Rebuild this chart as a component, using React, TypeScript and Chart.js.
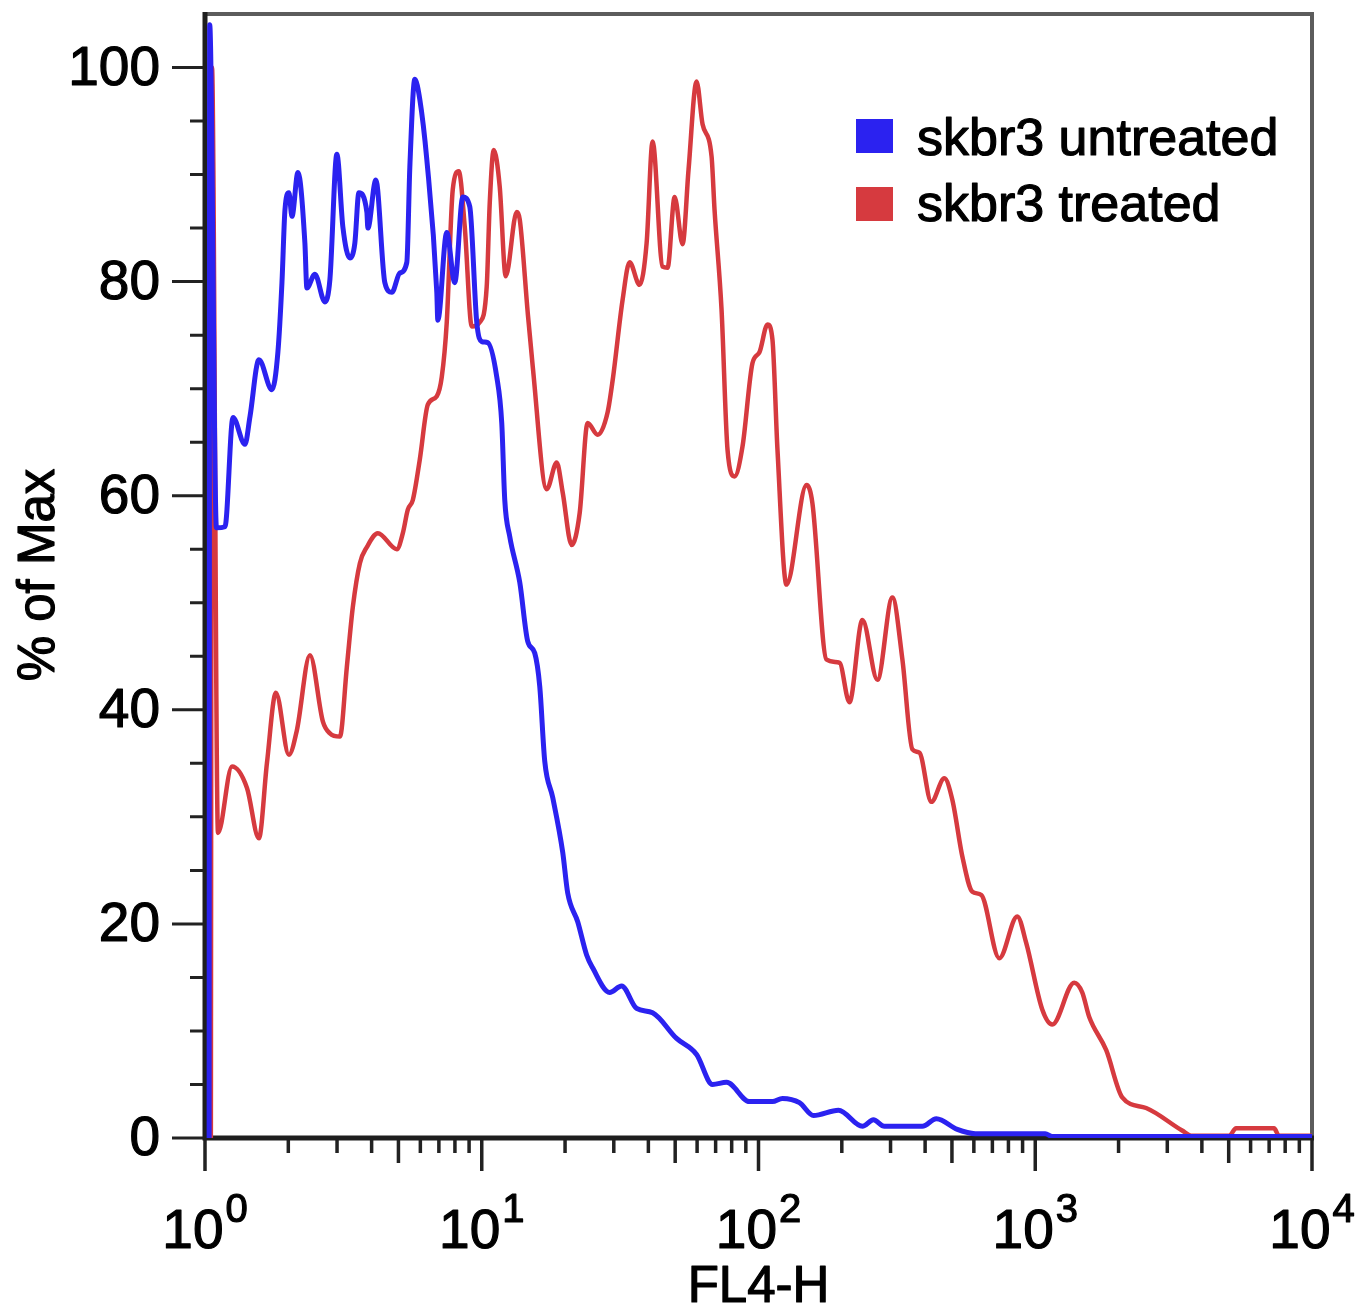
import React, { useEffect, useRef } from 'react';
import { Chart, registerables } from 'chart.js';

Chart.register(...registerables);

const FONT = '"Liberation Sans", Arial, Helvetica, sans-serif';
const BLUE = '#2b22f0';
const RED = '#d63a3f';

// FL4-H values (x) and % of Max (y)
const untreatedX = [1.035, 1.04, 1.10, 1.181, 1.262, 1.394, 1.454, 1.566, 1.746, 1.834, 1.897, 1.945, 2.010, 2.062, 2.167, 2.296, 2.334, 2.495, 2.712, 2.827, 2.996, 3.149, 3.338, 3.479, 3.597, 3.845, 3.877, 4.143, 4.465, 4.733, 5.058, 5.361, 5.497, 5.731, 5.974, 6.331, 6.880, 6.938, 7.474, 7.989, 8.541, 9.051, 9.592, 10.00, 10.51, 11.33, 11.81, 12.11, 12.62, 13.72, 14.66, 15.54, 16.20, 16.89, 18.05, 19.61, 20.44, 22.22, 23.93, 25.16, 28.98, 32.02, 36.27, 41.43, 50.58, 59.74, 68.23, 76.65, 92.80, 112.3, 122.1, 140.6, 158.0, 194.5, 237.4, 260.2, 285.0, 391.0, 439.2, 522.8, 607.4, 1087, 1152, 10000];
const untreatedY = [0, 104, 57.0, 57.1, 67.3, 64.8, 67.4, 72.7, 69.9, 73.4, 79.9, 86.7, 88.3, 86.1, 90.2, 83.6, 79.4, 80.7, 78.1, 80.2, 91.9, 85.1, 82.2, 83.6, 88.3, 86.5, 85.0, 89.5, 79.9, 79.0, 80.8, 81.8, 90.7, 98.9, 97.0, 91.4, 79.0, 76.4, 84.6, 79.9, 87.9, 87.0, 76.2, 74.4, 74.3, 71.1, 66.8, 59.6, 56.2, 51.9, 46.4, 45.3, 42.2, 35.2, 31.8, 26.7, 22.9, 20.2, 17.1, 15.9, 13.6, 14.2, 12.1, 11.7, 9.3, 7.8, 5.0, 5.2, 3.4, 3.4, 3.7, 3.3, 2.1, 2.6, 1.1, 1.7, 1.1, 1.1, 1.8, 0.8, 0.4, 0.4, 0.15, 0.15];

const treatedX = [1.05, 1.06, 1.114, 1.252, 1.418, 1.566, 1.674, 1.804, 2.010, 2.148, 2.394, 2.667, 2.827, 3.072, 3.255, 3.421, 3.628, 3.845, 4.213, 4.934, 5.186, 5.406, 5.636, 5.974, 6.384, 6.880, 7.171, 7.474, 7.858, 8.260, 8.682, 9.204, 9.835, 10.42, 10.69, 11.05, 11.61, 12.21, 13.38, 13.72, 14.66, 15.28, 17.17, 18.66, 19.61, 21.13, 22.59, 24.13, 26.23, 28.50, 29.72, 32.28, 34.22, 37.19, 39.42, 41.43, 45.02, 46.94, 49.76, 53.17, 55.89, 59.74, 62.79, 67.67, 69.37, 73.52, 77.28, 81.93, 87.55, 95.13, 100.8, 107.8, 112.3, 117.1, 126.2, 149.1, 156.6, 176.0, 196.1, 213.1, 237.4, 269.0, 304.6, 331.1, 359.8, 381.3, 421.3, 469.4, 501.6, 545.2, 592.5, 638.5, 741.3, 861.0, 928.0, 1060, 1152, 1383, 1478, 1567, 1805, 2062, 2516, 3394, 3689, 5017, 5316, 7293, 7602, 10000];
const treatedY = [0, 100, 28.5, 34.7, 32.7, 28.0, 35.0, 41.6, 35.8, 38.1, 45.1, 38.9, 37.8, 37.5, 44.0, 49.6, 53.7, 55.2, 56.5, 55.0, 56.5, 58.7, 59.6, 63.4, 68.5, 69.3, 71.1, 76.2, 88.6, 90.3, 85.1, 75.8, 76.2, 79.5, 87.4, 92.3, 88.9, 80.5, 86.5, 85.8, 77.1, 72.1, 60.6, 63.1, 60.3, 55.4, 58.4, 66.8, 65.7, 67.8, 70.8, 78.3, 81.8, 79.7, 83.6, 93.1, 81.4, 81.3, 87.9, 83.5, 90.5, 98.7, 94.7, 91.7, 86.7, 77.4, 64.3, 61.8, 64.6, 72.4, 73.4, 76.0, 74.6, 64.3, 51.7, 61.0, 59.3, 44.7, 44.4, 40.7, 48.4, 42.8, 50.5, 44.7, 36.3, 36.0, 31.4, 33.6, 31.6, 26.3, 23.0, 22.7, 16.8, 20.7, 18.2, 12.0, 10.6, 14.5, 13.6, 11.3, 8.2, 3.8, 2.8, 0.7, 0.2, 0.2, 0.9, 0.9, 0.2, 0.2];

const yTicks = [0, 20, 40, 60, 80, 100];
const yMinorTicks = [5, 10, 15, 25, 30, 35, 45, 50, 55, 65, 70, 75, 85, 90, 95];
const xDecades = [1, 10, 100, 1000, 10000];
const xDecadeExp = ['0', '1', '2', '3', '4'];
const xMinorMult = [2, 3, 4, 5, 6, 7, 8, 9];

const seriesLabels = ['skbr3 untreated', 'skbr3 treated'];
const xTitle = 'FL4-H';
const yTitle = '% of Max';

function heavyText(ctx: CanvasRenderingContext2D, text: string, x: number, y: number) {
  ctx.fillText(text, x, y);
  ctx.strokeText(text, x, y);
}

const decor = {
  id: 'decor',
  beforeDatasetsDraw(chart: any) {
    const { ctx, chartArea: a } = chart;
    const xs = chart.scales.x;
    const ys = chart.scales.y;
    ctx.save();
    ctx.lineCap = 'butt';
    ctx.strokeStyle = '#5c5c5c';
    ctx.lineWidth = 4;
    ctx.beginPath();
    ctx.moveTo(a.left, a.top);
    ctx.lineTo(a.right, a.top);
    ctx.lineTo(a.right, a.bottom);
    ctx.stroke();
    ctx.strokeStyle = '#222';
    ctx.lineWidth = 3;
    ctx.beginPath();
    yTicks.forEach((v) => {
      const py = ys.getPixelForValue(v);
      ctx.moveTo(a.left - 33, py);
      ctx.lineTo(a.left, py);
    });
    yMinorTicks.forEach((v) => {
      const py = ys.getPixelForValue(v);
      ctx.moveTo(a.left - 15, py);
      ctx.lineTo(a.left, py);
    });
    ctx.stroke();
    ctx.lineWidth = 3.5;
    ctx.beginPath();
    xDecades.forEach((d, i) => {
      const px = xs.getPixelForValue(d);
      ctx.moveTo(px, a.bottom);
      ctx.lineTo(px, a.bottom + 33);
      if (i < xDecades.length - 1) {
        xMinorMult.forEach((k) => {
          const mx = xs.getPixelForValue(k * d);
          const len = k === 5 ? 25 : 15;
          ctx.moveTo(mx, a.bottom);
          ctx.lineTo(mx, a.bottom + len);
        });
      }
    });
    ctx.stroke();
    ctx.strokeStyle = '#1e1e1e';
    ctx.lineWidth = 5;
    ctx.beginPath();
    ctx.moveTo(a.left, a.top - 2);
    ctx.lineTo(a.left, a.bottom);
    ctx.lineTo(a.right + 2, a.bottom);
    ctx.stroke();
    ctx.restore();
  },
  afterDraw(chart: any) {
    const { ctx, chartArea: a } = chart;
    const xs = chart.scales.x;
    const ys = chart.scales.y;
    ctx.save();
    ctx.fillStyle = '#000';
    ctx.strokeStyle = '#000';
    ctx.lineWidth = 1.2;
    ctx.lineJoin = 'round';
    // y tick labels
    ctx.font = `55px ${FONT}`;
    ctx.textAlign = 'right';
    ctx.textBaseline = 'middle';
    yTicks.forEach((v) => {
      heavyText(ctx, String(v), a.left - 45, ys.getPixelForValue(v) + 2);
    });
    // x tick labels 10^n
    xDecades.forEach((d, i) => {
      const px = xs.getPixelForValue(d);
      ctx.font = `55px ${FONT}`;
      const w1 = ctx.measureText('10').width;
      ctx.font = `40px ${FONT}`;
      const w2 = ctx.measureText(xDecadeExp[i]).width;
      const sx = px - (w1 + w2 + 2) / 2;
      ctx.textAlign = 'left';
      ctx.textBaseline = 'alphabetic';
      ctx.font = `55px ${FONT}`;
      heavyText(ctx, '10', sx, 1248);
      ctx.font = `40px ${FONT}`;
      heavyText(ctx, xDecadeExp[i], sx + w1 + 2, 1222);
    });
    // axis titles
    ctx.font = `51px ${FONT}`;
    ctx.textAlign = 'center';
    ctx.textBaseline = 'alphabetic';
    heavyText(ctx, xTitle, (a.left + a.right) / 2, 1302);
    ctx.save();
    ctx.translate(54, 575);
    ctx.rotate(-Math.PI / 2);
    heavyText(ctx, yTitle, 0, 0);
    ctx.restore();
    // legend
    const colors = [BLUE, RED];
    const tops = [119, 187];
    const bases = [155, 221];
    seriesLabels.forEach((lab, i) => {
      ctx.fillStyle = colors[i];
      ctx.fillRect(856, tops[i], 37, 34);
      ctx.fillStyle = '#000';
      ctx.font = `52px ${FONT}`;
      ctx.textAlign = 'left';
      heavyText(ctx, lab, 917, bases[i]);
    });
    ctx.restore();
  },
};

export default function App() {
  const ref = useRef<HTMLCanvasElement>(null);
  useEffect(() => {
    const canvas = ref.current as HTMLCanvasElement;
    const chart = new Chart(canvas, {
      type: 'line',
      data: {
        datasets: [
          {
            label: seriesLabels[0],
            data: untreatedX.map((x, i) => ({ x, y: untreatedY[i] })),
            borderColor: BLUE,
            backgroundColor: BLUE,
            borderWidth: 5,
            pointRadius: 0,
            cubicInterpolationMode: 'monotone',
            fill: false,
          },
          {
            label: seriesLabels[1],
            data: treatedX.map((x, i) => ({ x, y: treatedY[i] })),
            borderColor: RED,
            backgroundColor: RED,
            borderWidth: 4.5,
            pointRadius: 0,
            cubicInterpolationMode: 'monotone',
            fill: false,
          },
        ],
      },
      options: {
        responsive: false,
        animation: false,
        devicePixelRatio: 1,
        layout: { padding: { top: 14, right: 43, left: 0, bottom: 0 } },
        plugins: { legend: { display: false }, tooltip: { enabled: false } },
        scales: {
          x: {
            type: 'logarithmic',
            min: 1,
            max: 10000,
            position: 'bottom',
            ticks: { display: false },
            grid: { display: false },
            border: { display: false },
            afterFit: (s: any) => {
              s.height = 169;
              s.paddingLeft = 0;
              s.paddingRight = 0;
            },
          },
          y: {
            type: 'linear',
            min: 0,
            max: 105,
            position: 'left',
            ticks: { display: false },
            grid: { display: false },
            border: { display: false },
            afterFit: (s: any) => {
              s.width = 205;
              s.paddingTop = 0;
              s.paddingBottom = 0;
            },
          },
        },
      },
      plugins: [decor],
    } as any);
    return () => chart.destroy();
  }, []);
  return (
    <div style={{ position: 'absolute', left: 0, top: 0, width: 1355, height: 1307, background: '#fff' }}>
      <canvas ref={ref} width={1355} height={1307} style={{ display: 'block' }} />
    </div>
  );
}
